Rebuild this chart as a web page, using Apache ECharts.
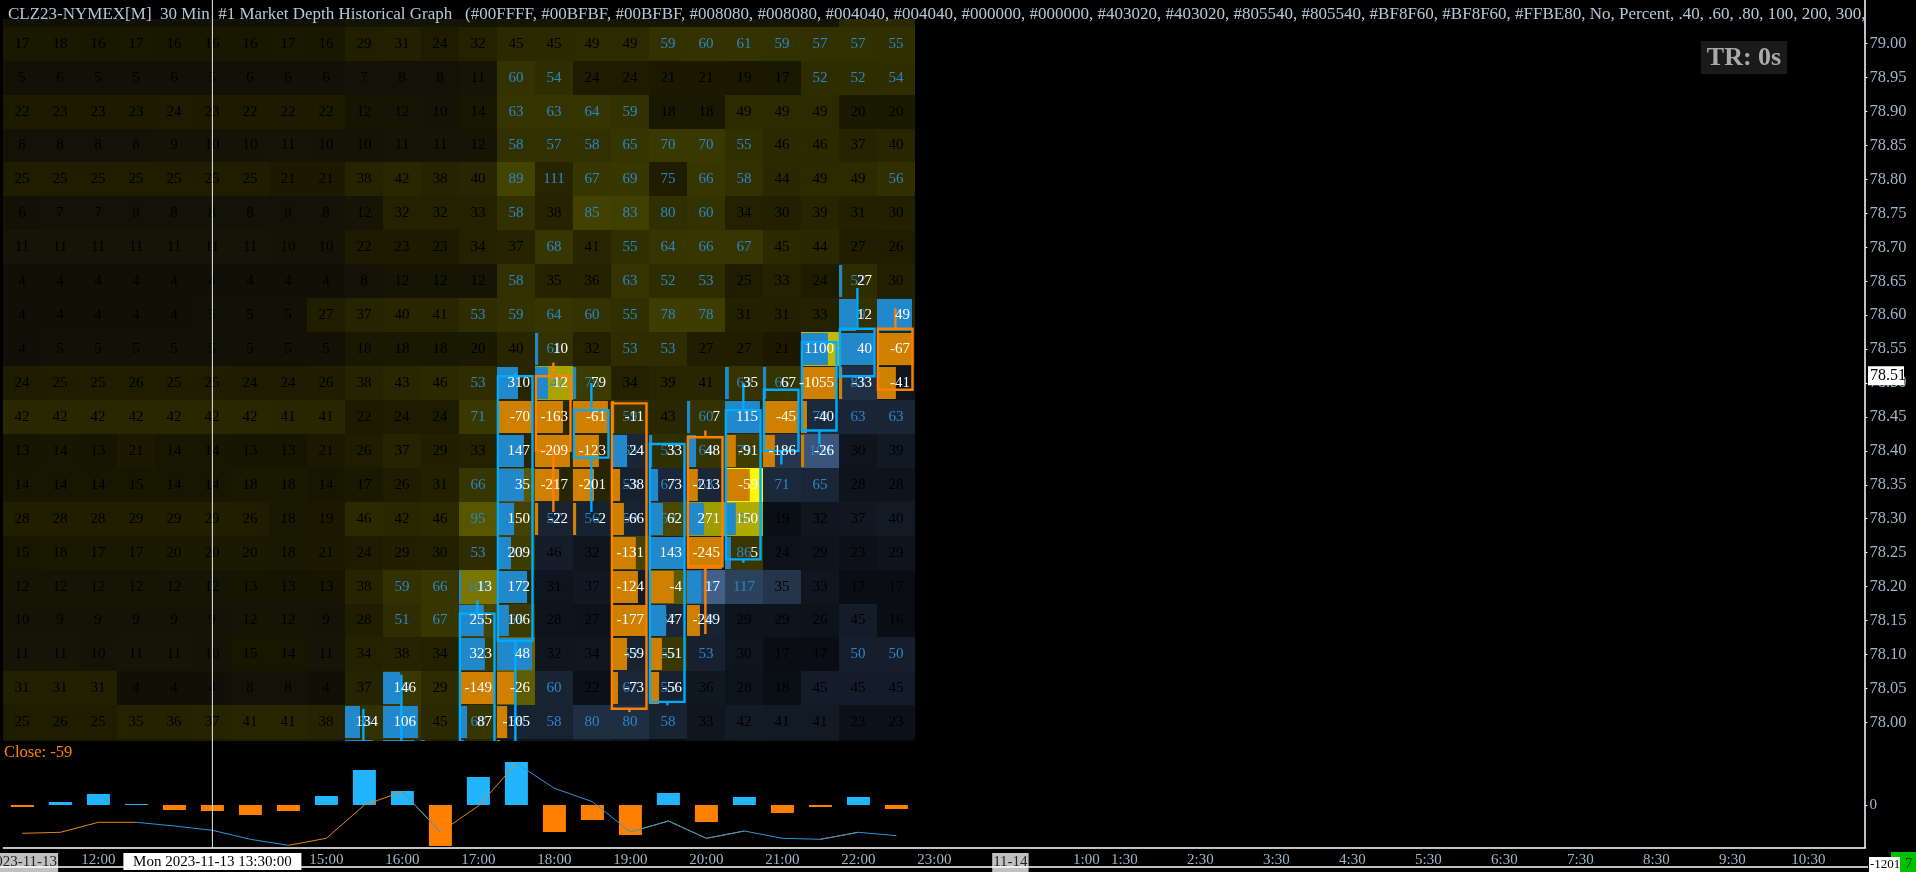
<!DOCTYPE html>
<html><head><meta charset="utf-8">
<style>html,body{margin:0;padding:0;background:#000;overflow:hidden}#c{width:1916px;height:872px}</style>
<script src="https://cdn.jsdelivr.net/npm/echarts@6/dist/echarts.min.js"></script>
</head><body><div id="c"></div>
<script>
const FONT='"Liberation Serif"';
const titleText='CLZ23-NYMEX[M]  30 Min  #1 Market Depth Historical Graph   (#00FFFF, #00BFBF, #00BFBF, #008080, #008080, #004040, #004040, #000000, #000000, #403020, #403020, #805540, #805540, #BF8F60, #BF8F60, #FFBE80, No, Percent, .40, .60, .80, 100, 200, 300,';
const timeCats=['11:00','11:30','12:00','12:30','13:00','13:30','14:00','14:30','15:00','15:30','16:00','16:30','17:00','17:30','18:00','18:30','19:00','19:30','20:00','20:30','21:00','21:30','22:00','22:30','23:00','23:30','0:00','0:30','1:00','1:30','2:00','2:30','3:00','3:30','4:00','4:30','5:00','5:30','6:00','6:30','7:00','7:30','8:00','8:30','9:00','9:30','10:00','10:30','11:00 '];
const dateLabels={'11:00':'2023-11-13','0:00':'11-14'};
const tickedTimes=['11:00','12:00','13:00','14:00','15:00','16:00','17:00','18:00','19:00','20:00','21:00','22:00','23:00','0:00','1:00','1:30','2:30','3:30','4:30','5:30','6:30','7:30','8:30','9:30','10:30'];
const priceTicks=[78,78.05,78.1,78.15,78.2,78.25,78.3,78.35,78.4,78.45,78.5,78.55,78.6,78.65,78.7,78.75,78.8,78.85,78.9,78.95,79];
const rowPrices=[79.05,79,78.95,78.9,78.85,78.8,78.75,78.7,78.65,78.6,78.55,78.5,78.45,78.4,78.35,78.3,78.25,78.2,78.15,78.1,78.05,78,77.95];
const PRICE_STEP=0.05;
// depth per price row, columns 11:00 .. 22:30 (null = value hidden behind the footprint)
const h7905=[6,6,6,6,6,6,6,6,6,10,10,10,10,14,14,14,14,12,12,12,12,12,45,45];
const h7900=[17,18,16,17,16,16,16,17,16,29,31,24,32,45,45,49,49,59,60,61,59,57,57,55];
const h7895=[5,6,5,5,6,5,6,6,6,7,8,8,11,60,54,24,24,21,21,19,17,52,52,54];
const h7890=[22,23,23,23,24,23,22,22,22,12,12,10,14,63,63,64,59,18,18,49,49,49,20,20];
const h7885=[8,8,8,8,9,10,10,11,10,10,11,11,12,58,57,58,65,70,70,55,46,46,37,40];
const h7880=[25,25,25,25,25,25,25,21,21,38,42,38,40,89,111,67,69,75,66,58,44,49,49,56];
const h7875=[6,7,7,8,8,8,8,8,8,12,32,32,33,58,38,85,83,80,60,34,30,39,31,30];
const h7870=[11,11,11,11,11,11,11,10,10,22,23,23,34,37,68,41,55,64,66,67,45,44,27,26];
const h7865=[4,4,4,4,4,4,4,4,4,8,12,12,12,58,35,36,63,52,53,25,33,24,52,30];
const h7860=[4,4,4,4,4,5,5,5,27,37,40,41,53,59,64,60,55,78,78,31,31,33,59,null];
const h7855=[4,5,5,5,5,5,5,5,5,18,18,18,20,40,61,32,53,53,27,27,21,null,null,null];
const h7850=[24,25,25,26,25,25,24,24,26,38,43,46,53,null,147,75,34,39,41,63,65,null,83,30];
const h7845=[42,42,42,42,42,42,42,41,41,22,24,24,71,null,null,null,59,43,60,null,null,70,63,63];
const h7840=[13,14,13,21,14,14,13,13,21,26,37,29,33,null,null,null,65,55,64,79,null,108,30,39];
const h7835=[14,14,14,15,14,14,18,18,14,17,26,31,66,null,null,null,53,67,63,null,71,65,28,28];
const h7830=[28,28,28,29,29,29,26,18,19,46,42,46,95,null,57,56,59,59,null,51,19,32,37,40];
const h7825=[15,18,17,17,20,20,20,18,21,24,29,30,53,93,46,32,null,null,null,86,24,29,23,29];
const h7820=[12,12,12,12,12,12,13,13,13,38,59,66,108,null,31,37,null,null,139,117,35,33,17,17];
const h7815=[10,9,9,9,9,9,12,12,9,28,51,67,null,68,28,27,null,67,58,29,29,26,45,16];
const h7810=[11,11,10,11,11,10,15,14,11,34,38,34,null,null,32,34,59,55,53,30,17,17,50,50];
const h7805=[31,31,31,4,4,4,8,8,4,37,56,29,null,null,60,22,67,55,36,28,18,45,45,45];
const h7800=[25,26,25,35,36,37,41,41,38,68,null,45,68,58,58,80,80,58,33,42,41,41,23,23];
const h7795=[18,18,18,24,24,24,26,26,24,50,50,30,40,30,30,40,30,14,30,30,30,30,12,12];
const heatRows=[h7905,h7900,h7895,h7890,h7885,h7880,h7875,h7870,h7865,h7860,h7855,h7850,h7845,h7840,h7835,h7830,h7825,h7820,h7815,h7810,h7805,h7800,h7795];
// first price (row list above) at which each column's cells read as bid side
const bidFromPrice=[0,0,0,0,0,0,0,0,0,0,0,0,0,78,78.3,78.3,78.4,78.35,78.35,78.2,78.4,78.45,78.5,78.5];
const askCellsBelow=[[16,78.25],[17,78.3],[17,78.2],[17,78.1],[18,78.3]];
// cells whose shade stands out from the value-driven level [col, price, level]
const shadeCells=[[12,78.3,88],[12,78.2,122],[12,78.15,70],[12,78.1,60],[13,78.35,90],[13,78.3,68],[13,78.25,62],[13,78.15,60],[13,78.1,104],[13,78.05,96],[14,78.8,38],[17,78.8,30],[17,78.75,48],[14,78.5,168],[18,78.3,160],[19,78.35,255],[19,78.3,176],[21,78.55,192],[17,78.3,74],[17,78.2,92],[17,78.1,58],[19,78.25,58],[16,78.25,70],[10,78.05,58],[10,78,55],[11,78.05,45],[9,78,50],[21,78.4,122],[18,78.2,136],[20,78.4,78],[20,78.2,74]];
// footprint: [col, price, label, bar share of column %, side]
const footprint=[
[9,78,134,43,'b'],[9,77.95,null,80,'b'],
[10,78.05,146,49,'b'],[10,78,106,100,'b'],[10,77.95,null,89,'b'],
[11,77.95,null,11,'b'],
[12,78.2,13,6,'b'],[12,78.15,255,71,'b'],[12,78.1,323,74,'b'],[12,78.05,-149,100,'o'],[12,78,87,23,'b'],[12,77.95,null,14,'b'],
[13,78.5,310,60,'b'],[13,78.45,-70,100,'o'],[13,78.4,147,77,'b'],[13,78.35,35,77,'b'],[13,78.3,150,49,'b'],[13,78.25,209,40,'b'],[13,78.2,172,86,'b'],[13,78.15,106,34,'b'],[13,78.1,48,100,'b'],[13,78.05,-26,49,'o'],[13,78,-105,29,'o'],[13,77.95,null,9,'o'],
[14,78.55,10,9,'b'],[14,78.5,12,37,'b'],[14,78.45,-163,80,'o'],[14,78.4,-209,100,'o'],[14,78.35,-217,69,'o'],[14,78.3,-22,9,'o'],
[15,78.5,79,9,'b'],[15,78.45,-61,100,'o'],[15,78.4,-123,74,'o'],[15,78.35,-201,60,'o'],[15,78.3,-2,9,'o'],
[16,78.45,-11,9,'o'],[16,78.4,24,46,'b'],[16,78.35,-38,26,'o'],[16,78.3,-66,37,'o'],[16,78.25,-131,71,'o'],[16,78.2,-124,77,'o'],[16,78.15,-177,100,'o'],[16,78.1,-59,46,'o'],[16,78.05,-73,20,'o'],
[17,78.4,33,9,'b'],[17,78.35,73,26,'b'],[17,78.3,62,40,'b'],[17,78.25,143,100,'b'],[17,78.2,-4,71,'o'],[17,78.15,47,49,'b'],[17,78.1,-51,37,'o'],[17,78.05,-56,29,'o'],
[18,78.45,7,9,'b'],[18,78.4,48,26,'b'],[18,78.35,-213,31,'o'],[18,78.3,271,49,'b'],[18,78.25,-245,100,'o'],[18,78.2,17,40,'b'],[18,78.15,-249,37,'o'],
[19,78.5,35,11,'b'],[19,78.45,115,100,'b'],[19,78.4,-91,31,'o'],[19,78.35,-59,71,'o'],[19,78.3,150,31,'b'],[19,78.25,5,17,'b'],
[20,78.5,67,9,'b'],[20,78.45,-45,100,'o'],[20,78.4,-186,34,'o'],
[21,78.55,1100,77,'b'],[21,78.5,-1055,100,'o'],[21,78.45,-40,17,'o'],[21,78.4,-26,9,'o'],
[22,78.65,27,9,'b'],[22,78.6,12,49,'b'],[22,78.55,40,100,'b'],[22,78.5,-33,9,'o'],
[23,78.6,49,100,'b'],[23,78.55,-67,100,'o'],[23,78.5,-41,54,'o']];
// candles: [col, open, close, low, high]
const candles=[[9,77.94,77.96,77.9,78.02],[10,77.94,77.96,77.9,78.07],[12,77.95,78.16,77.9,78.18],[13,78.12,78.51,77.9,78.515],[14,78.51,78.4,78.31,78.53],[15,78.39,78.46,78.31,78.5],[16,78.47,78.02,78.015,78.47],[17,78.03,78.41,78.025,78.41],[18,78.42,78.23,78.13,78.43],[19,78.24,78.46,78.235,78.5],[20,78.4,78.49,78.38,78.49],[21,78.43,78.56,78.41,78.56],[22,78.51,78.58,78.51,78.64],[23,78.58,78.49,78.49,78.61]];
// lower panel
const deltaBars=[-20,30,110,10,-50,-60,-100,-60,90,350,140,-410,280,430,-270,-150,-300,120,-170,80,-80,-20,80,-40];
const deltaLine=[-283,-273,-173,-173,-210,-253,-343,-403,-333,0,133,-270,-10,417,167,33,-270,-160,-333,-260,-333,-343,-273,-307];
const closePrice=78.51, crossTime='13:30';

const key=(c,p)=>c+'|'+p;
const shadeMap={}; shadeCells.forEach(s=>shadeMap[key(s[0],s[1])]=s[2]);
const askSet=new Set(askCellsBelow.map(a=>key(a[0],a[1])));
const cellList=[];
rowPrices.forEach((p,r)=>heatRows[r].forEach((v,c)=>cellList.push([c,p,v,r])));
function cellColor(c,p,v){
  const isBid=bidFromPrice[c]>0&&p<=bidFromPrice[c]&&!askSet.has(key(c,p));
  const val=v==null?40:v, ov=shadeMap[key(c,p)];
  if(isBid){const B=ov!==undefined?ov:8+0.72*val;return `rgb(${Math.round(B*0.48)},${Math.round(B*0.7)},${Math.round(B)})`;}
  const b=ov!==undefined?ov:14+0.62*val;
  return `rgb(${Math.round(b)},${Math.round(b*0.97)},${b<22?6:0})`;
}
function rowBox(api,c,p){
  const pt=api.coord([c,p]),w=api.size([1,0])[0],h=api.size([0,PRICE_STEP])[1];
  const t=Math.round(pt[1]-h/2),b=Math.round(pt[1]+h/2);
  return {l:Math.round(pt[0]-w/2),w,t,b};
}
function renderCell(params,api){
  const d=cellList[params.dataIndex],b=rowBox(api,d[0],d[1]),v=d[2];
  const kids=[{type:'rect',shape:{x:b.l,y:b.t,width:Math.round(b.w),height:b.b-b.t},style:{fill:cellColor(d[0],d[1],v)}}];
  const textRow=d[3]>0&&d[3]<rowPrices.length-1;
  if(v!=null&&textRow) kids.push({type:'text',style:{x:b.l+b.w/2,y:(b.t+b.b)/2,text:String(v),fill:v>=50?'#2a86c8':'#000000',font:'15px '+FONT,align:'center',verticalAlign:'middle'}});
  return {type:'group',children:kids};
}
function renderBar(params,api){
  const d=footprint[params.dataIndex],b=rowBox(api,d[0],d[1]);
  return {type:'rect',shape:{x:b.l,y:b.t+1,width:d[3]/100*b.w*0.92,height:b.b-b.t-2},style:{fill:d[4]==='b'?'#2288cc':'#d08000'}};
}
function renderLabel(params,api){
  const d=footprint[params.dataIndex];
  if(d[2]==null) return null;
  const b=rowBox(api,d[0],d[1]);
  return {type:'text',style:{x:b.l+b.w*0.87,y:(b.t+b.b)/2,text:String(d[2]),fill:'#fff',font:'15px '+FONT,align:'right',verticalAlign:'middle'}};
}
function renderCandle(params,api){
  const d=candles[params.dataIndex],w=api.size([1,0])[0];
  const cx=api.coord([d[0],d[1]])[0],left=cx-w/2+0.5,right=left+w*0.91,mid=left+w*0.46;
  const yO=api.coord([d[0],d[1]])[1],yC=api.coord([d[0],d[2]])[1],yL=api.coord([d[0],d[3]])[1],yH=api.coord([d[0],d[4]])[1];
  const col=d[2]>=d[1]?'#00aaff':'#ff8000',st={stroke:col,lineWidth:2.4,fill:null};
  const top=Math.min(yO,yC),bot=Math.max(yO,yC);
  return {type:'group',children:[
    {type:'rect',shape:{x:left,y:top,width:right-left,height:bot-top},style:st},
    {type:'line',shape:{x1:mid,y1:yH,x2:mid,y2:top},style:st},
    {type:'line',shape:{x1:mid,y1:bot,x2:mid,y2:yL},style:st}]};
}
const riseLine=deltaLine.map((v,i)=>(deltaLine[i+1]>=v&&i<23)||(i>0&&v>=deltaLine[i-1])?v:null);
const fallLine=deltaLine.map((v,i)=>(i<23&&deltaLine[i+1]<v)||(i>0&&v<deltaLine[i-1])?v:null);
const axisTxt={color:'#9fb4c8',fontFamily:FONT};
const chart=echarts.init(document.getElementById('c'),null,{renderer:'canvas',width:1916,height:872});
chart.setOption({
  backgroundColor:'#000',animation:false,
  title:{text:titleText,left:3,top:1,textStyle:{color:'#b4c8da',fontFamily:FONT,fontSize:17,fontWeight:'normal'}},
  grid:[{left:3.4,right:50.6,top:19,height:722,outerBoundsMode:'none'},{left:3.4,right:50.6,top:741,height:107,outerBoundsMode:'none'}],
  xAxis:[
    {type:'category',gridIndex:0,data:timeCats,show:false,boundaryGap:true},
    {type:'category',gridIndex:1,data:timeCats,boundaryGap:true,
     axisLine:{onZero:false,lineStyle:{color:'#fff',width:1.5}},
     axisTick:{alignWithLabel:true,length:3,lineStyle:{color:'#fff'},interval:(i,v)=>tickedTimes.includes(v)},
     axisLabel:{...axisTxt,fontSize:15,margin:5,interval:(i,v)=>tickedTimes.includes(v),hideOverlap:false,
       formatter:v=>dateLabels[v]&&timeCats.indexOf(v)<30?`{d|${dateLabels[v]}}`:v,
       rich:{d:{backgroundColor:'#c0c0c0',color:'#222',fontFamily:FONT,fontSize:15,padding:[2,1,2,1]}}}}],
  yAxis:[
    {type:'value',gridIndex:0,position:'right',min:77.9724,max:79.0364,scale:true,splitLine:{show:false},
     axisLine:{show:false},axisTick:{show:true,length:2,lineStyle:{color:'#fff'},customValues:priceTicks},
     axisLabel:{...axisTxt,fontSize:16.5,margin:4,customValues:priceTicks,formatter:v=>v.toFixed(2)}},
    {type:'value',gridIndex:1,position:'right',min:-430,max:640,splitLine:{show:false},
     axisLine:{show:false},axisTick:{show:true,length:2,lineStyle:{color:'#fff'},customValues:[0]},
     axisLabel:{...axisTxt,fontSize:15,margin:4,customValues:[0],formatter:v=>String(v)}}],
  series:[
    {type:'custom',name:'depth',xAxisIndex:0,yAxisIndex:0,clip:true,renderItem:renderCell,data:cellList.map(d=>[d[0],d[1]]),encode:{x:0,y:1},silent:true},
    {type:'custom',name:'footprint bars',xAxisIndex:0,yAxisIndex:0,clip:true,renderItem:renderBar,data:footprint.map(d=>[d[0],d[1]]),encode:{x:0,y:1},silent:true},
    {type:'custom',name:'candles',xAxisIndex:0,yAxisIndex:0,clip:true,renderItem:renderCandle,data:candles.map(d=>[d[0],d[1],d[2],d[3],d[4]]),encode:{x:0,y:[1,2,3,4]},silent:true},
    {type:'custom',name:'footprint labels',xAxisIndex:0,yAxisIndex:0,clip:true,renderItem:renderLabel,data:footprint.map(d=>[d[0],d[1]]),encode:{x:0,y:1},silent:true},
    {type:'bar',name:'delta',xAxisIndex:1,yAxisIndex:1,barWidth:23,silent:true,
     data:deltaBars.map(v=>({value:v,itemStyle:{color:v>=0?'#22b5ff':'#ff8000'}}))},
    {type:'line',name:'rise',xAxisIndex:1,yAxisIndex:1,data:riseLine,showSymbol:false,connectNulls:false,silent:true,lineStyle:{color:'#e8860c',width:1},z:5},
    {type:'line',name:'fall',xAxisIndex:1,yAxisIndex:1,data:fallLine,showSymbol:false,connectNulls:false,silent:true,lineStyle:{color:'#2a96e0',width:1},z:5}
  ]
});
const crossX=chart.convertToPixel({xAxisIndex:0},crossTime);
const closeY=chart.convertToPixel({yAxisIndex:0},closePrice);
const rect=(x,y,w,h,fill)=>({type:'rect',shape:{x,y,width:w,height:h},style:{fill},silent:true,z:50});
const txt=(x,y,text,fill,font,align)=>({type:'text',style:{x,y,text,fill,font,textAlign:align||'left',textVerticalAlign:'middle'},silent:true,z:51});
chart.setOption({graphic:[
  {type:'line',shape:{x1:1865,y1:0,x2:1865,y2:848},style:{stroke:'#fff',lineWidth:1.5},silent:true,z:49},
  {type:'line',shape:{x1:0,y1:867,x2:1868,y2:867},style:{stroke:'#fff',lineWidth:1.5},silent:true,z:48},
  {type:'line',shape:{x1:crossX,y1:0,x2:crossX,y2:848},style:{stroke:'#e8e8f0',lineWidth:1},silent:true,z:49},
  rect(crossX-89,853,178,17,'#fff'),
  txt(crossX,862,'Mon 2023-11-13 13:30:00','#000','15px '+FONT,'center'),
  rect(1701,41,86,33,'#1a1a1a'),
  txt(1744,58,'TR: 0s','#aaaaaa','bold 26px '+FONT,'center'),
  rect(1868,closeY-10,36,19,'#fff'),
  txt(1870,closeY,closePrice.toFixed(2),'#000','16px '+FONT),
  txt(4,753,'Close: -59','#ff8000','16.5px '+FONT),
  rect(1891,852,25,20,'#00c000'),
  txt(1905,864,'7','#004000','15px '+FONT),
  rect(1869,857,31,15,'#fff'),
  txt(1870,865,'-1201','#000','13px '+FONT)
]});
</script></body></html>
